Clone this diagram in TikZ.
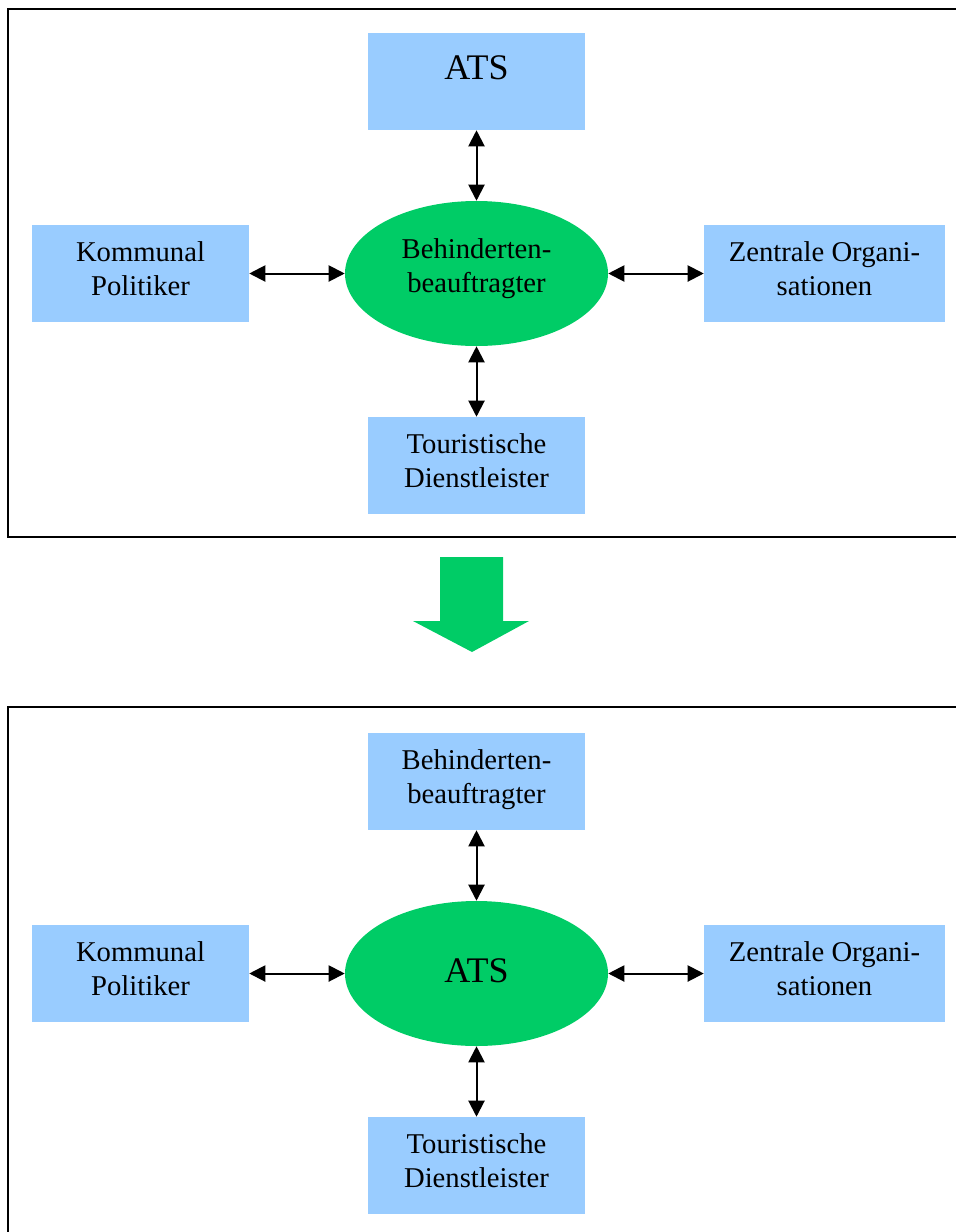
\documentclass[tikz,border=0pt]{standalone}
\usepackage{fontspec}
\setmainfont{Liberation Serif}
\usetikzlibrary{arrows.meta,shapes.geometric}
\definecolor{boxblue}{HTML}{99CCFF}
\definecolor{ellgreen}{HTML}{00CC66}
\begin{document}
\begin{tikzpicture}[x=0.75pt,y=-0.75pt,
  txt/.style={font=\fontsize{21.5}{25.5}\selectfont, align=center, text depth=8pt},
  bigtxt/.style={font=\fontsize{27}{32}\selectfont, align=center, text depth=4.5pt},
  bluebox/.style={rectangle, fill=boxblue, draw=none, inner sep=0pt, minimum height=72.75pt, minimum width=162.75pt, txt},
  widebox/.style={bluebox, minimum width=180.75pt},
  greenell/.style={ellipse, fill=ellgreen, draw=none, inner sep=0pt, minimum width=197.25pt, minimum height=108.75pt, txt},
  link/.style={line width=1.5pt, {Triangle[length=12pt,width=12pt]}-{Triangle[length=12pt,width=12pt]}},
  frame/.style={line width=1.5pt, draw=black}
]
\useasboundingbox (0,0) rectangle (956,1232);
% frames
\draw[frame] (960,9) -- (8,9) -- (8,537) -- (960,537);
\draw[frame] (960,707) -- (8,707) -- (8,1236);

% top diagram
\node[greenell, text depth=12pt] (e1) at (476.5,273.5) {Behinderten-\\beauftragter};
\node[bluebox, bigtxt, text depth=21pt] (t1) at (476.5,81.5) {ATS};
\node[bluebox] (l1) at (140.5,273.5) {Kommunal\\Politiker};
\node[widebox] (r1) at (824.5,273.5) {Zentrale Organi-\\sationen};
\node[bluebox] (b1) at (476.5,465.5) {Touristische\\Dienstleister};
\draw[link] (t1.south) -- (e1.north);
\draw[link] (l1.east) -- (e1.west);
\draw[link] (e1.east) -- (r1.west);
\draw[link] (e1.south) -- (b1.north);

% big arrow
\fill[ellgreen] (440,557) -- (503,557) -- (503,621) -- (529,621) -- (472,652) -- (413,621) -- (440,621) -- cycle;

% bottom diagram
\node[greenell, bigtxt] (e2) at (476.5,973.5) {ATS};
\node[bluebox] (t2) at (476.5,781.5) {Behinderten-\\beauftragter};
\node[bluebox] (l2) at (140.5,973.5) {Kommunal\\Politiker};
\node[widebox] (r2) at (824.5,973.5) {Zentrale Organi-\\sationen};
\node[bluebox] (b2) at (476.5,1165.5) {Touristische\\Dienstleister};
\draw[link] (t2.south) -- (e2.north);
\draw[link] (l2.east) -- (e2.west);
\draw[link] (e2.east) -- (r2.west);
\draw[link] (e2.south) -- (b2.north);
\end{tikzpicture}
\end{document}
